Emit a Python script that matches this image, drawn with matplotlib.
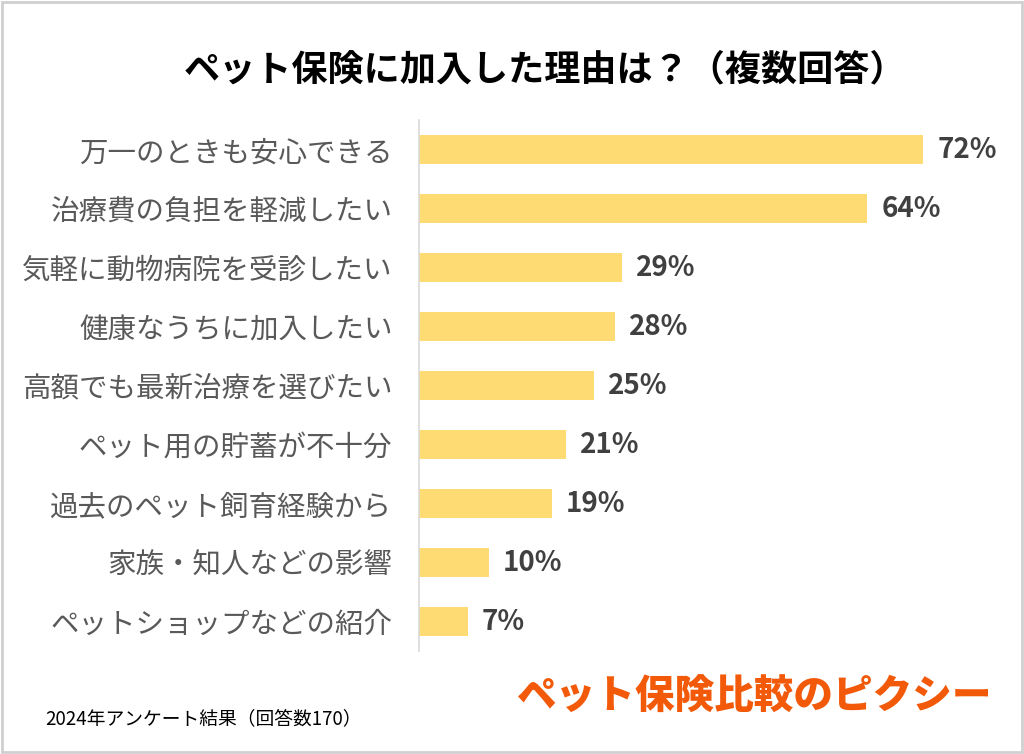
import matplotlib.pyplot as plt
from matplotlib.patches import Rectangle

plt.rcParams['font.family'] = ['Noto Sans CJK JP', 'DejaVu Sans']

riyuu = [
    "万一のときも安心できる",
    "治療費の負担を軽減したい",
    "気軽に動物病院を受診したい",
    "健康なうちに加入したい",
    "高額でも最新治療を選びたい",
    "ペット用の貯蓄が不十分",
    "過去のペット飼育経験から",
    "家族・知人などの影響",
    "ペットショップなどの紹介",
]
wariai = [72, 64, 29, 28, 25, 21, 19, 10, 7]

fig = plt.figure(figsize=(10.24, 7.54), dpi=100)
ax = fig.add_axes([0.409, 0.1366, 0.568, 0.704])

y = list(range(len(riyuu)))
ax.barh(y, wariai, height=0.5, color="#FFDB74")
ax.set_ylim(len(riyuu) - 0.5, -0.5)
ax.set_xlim(0, 83)

for yi, v in zip(y, wariai):
    ax.annotate(f"{v}%", (v, yi), xytext=(10, 0), textcoords="offset points",
                va="center", ha="left", fontsize=20, fontweight="bold", color="#404040")

ax.set_yticks(y)
ax.set_yticklabels(riyuu, fontsize=20.5, color="#595959")
ax.tick_params(axis="y", length=0, pad=19)
ax.set_xticks([])
for s in ["top", "right", "bottom"]:
    ax.spines[s].set_visible(False)
ax.spines["left"].set_color("#D9D9D9")
ax.spines["left"].set_linewidth(1.2)

fig.text(0.532, 0.907, "ペット保険に加入した理由は？（複数回答）", ha="center", va="center",
         fontsize=26, fontweight="bold", color="#000000")
fig.text(0.044, 0.047, "2024年アンケート結果（回答数170）", ha="left", va="center",
         fontsize=13.5, color="#000000")
fig.text(0.968, 0.075, "ペット保険比較のピクシー", ha="right", va="center",
         fontsize=28.5, fontweight="heavy", color="#F25A0A")

fig.patches.append(Rectangle((0.002, 0.003), 0.996, 0.994, transform=fig.transFigure,
                             fill=False, edgecolor="#D0D0D0", linewidth=2))

fig.savefig("out.png", dpi=100)
